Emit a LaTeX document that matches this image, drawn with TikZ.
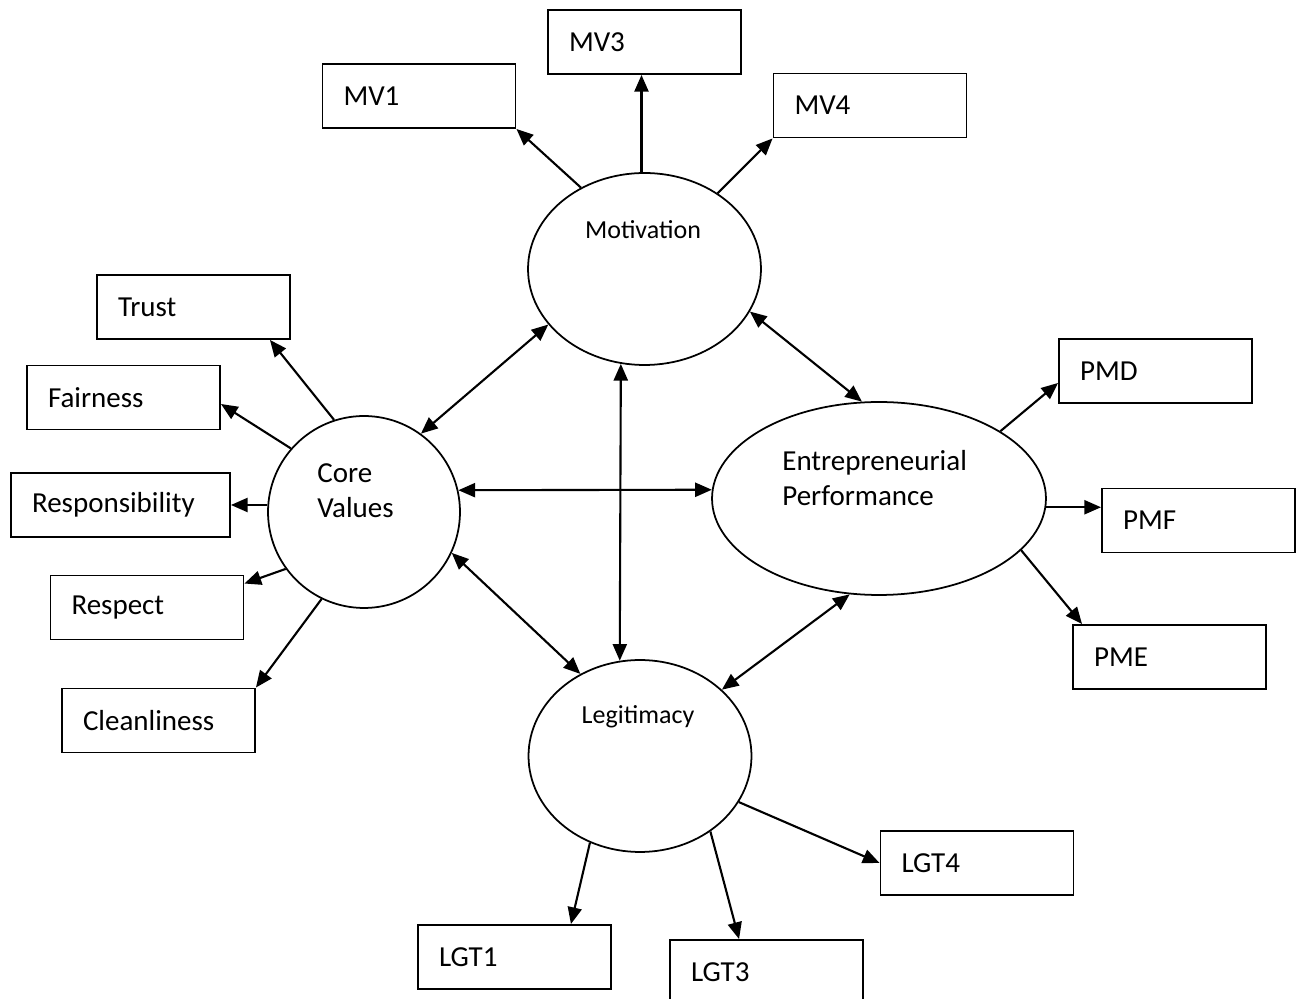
\documentclass[tikz,border=0pt]{standalone}
\usepackage{fontspec}
\setmainfont{Carlito}
\usetikzlibrary{arrows.meta,calc,shapes.geometric}
\begin{document}
\begin{tikzpicture}[x=0.02cm,y=-0.02cm,
  box/.style={draw,line width=1.1pt,rectangle,minimum height=1.28cm,inner xsep=0.42cm,inner ysep=0pt,text width=3.02cm,align=left,font=\fontsize{16.5}{20}\selectfont},
  latent/.style={draw,line width=1pt,ellipse,inner sep=0pt},
  lbl/.style={inner sep=0pt,font=\fontsize{16.5}{20}\selectfont,align=left},
  slbl/.style={inner sep=0pt,font=\fontsize{14.8}{18}\selectfont},
  arr/.style={line width=1.2pt,-{Triangle[length=9.5pt,width=8pt]}},
  darr/.style={line width=1.2pt,{Triangle[length=9.5pt,width=8pt]}-{Triangle[length=9.5pt,width=8pt]}}]
\useasboundingbox[fill=white] (0,0) rectangle (1296,999);

% latent variables
\node[latent,minimum width=4.66cm,minimum height=3.84cm] (mot) at (644.5,269) {};
\node[slbl] (motlbl) at (643,230) {Motivation};
\node[latent,minimum width=3.84cm,minimum height=3.84cm] (core) at (364,512) {};
\node[lbl,anchor=west] (corelbl) at (317,491) {Core\\Values};
\node[latent,minimum width=6.68cm,minimum height=3.86cm] (ep) at (879,498.5) {};
\node[lbl,anchor=west] (eplbl) at (782,478) {Entrepreneurial\\Performance};
\node[latent,minimum width=4.46cm,minimum height=3.84cm] (leg) at (640,756) {};
\node[slbl] (leglbl) at (638,717) {Legitimacy};

% indicators
\node[box] (mv1) at (419,96) {MV1};
\node[box] (mv3) at (644.5,42) {MV3};
\node[box] (mv4) at (870,105.5) {MV4};
\node[box] (trust) at (193.5,307) {Trust};
\node[box] (fair) at (123.5,397.5) {Fairness};
\node[box,text width=3.54cm] (resp) at (120.5,505) {Responsibility};
\node[box] (respect) at (147,607.5) {Respect};
\node[box] (clean) at (158.5,720.5) {Cleanliness};
\node[box] (pmd) at (1155.5,371) {PMD};
\node[box] (pmf) at (1198.5,520.5) {PMF};
\node[box] (pme) at (1169.5,657) {PME};
\node[box] (lgt4) at (977,863) {LGT4};
\node[box] (lgt1) at (514.5,957) {LGT1};
\node[box] (lgt3) at (766.5,972) {LGT3};

% outgoing arrows
\draw[arr] (core.108) -- ($(trust.south east)+(-21,0)$);
\draw[arr] (core.139) -- ($(fair.east)+(0,6.5)$);
\draw[arr] (core.west |- resp.east) -- (resp.east);
\draw[arr] (core.216) -- ($(respect.north east)+(0,9)$);
\draw[arr] (core.244) -- (clean.north east);
\draw[arr] (mot.128) -- (mv1.south east);
\draw[arr] ($(mot.north)+(-3,0)$) -- ($(mv3.south)+(-3,0)$);
\draw[arr] (mot.46) -- (mv4.south west);
\draw[arr] (ep.29.5) -- ($(pmd.south west)+(0,-21)$);
\draw[arr] (ep.357) -- (ep.357 -| pmf.west);
\draw[arr] (ep.340) -- ($(pme.north west)+(10,0)$);
\draw[arr] (leg.240) -- ($(lgt1.north east)+(-41,0)$);
\draw[arr] (leg.313.5) -- ($(lgt3.north west)+(70,0)$);
\draw[arr] (leg.335.5) -- (lgt4.west);

% correlations
\draw[darr] (core.54) -- (mot.210);
\draw[darr] (core.13) -- (ep.177);
\draw[darr] (mot.256) -- (leg.102);
\draw[darr] (mot.338.3) -- (ep.100);
\draw[darr] (core.335) -- (leg.126);
\draw[darr] (leg.39.7) -- (ep.253.3);
\end{tikzpicture}
\end{document}
